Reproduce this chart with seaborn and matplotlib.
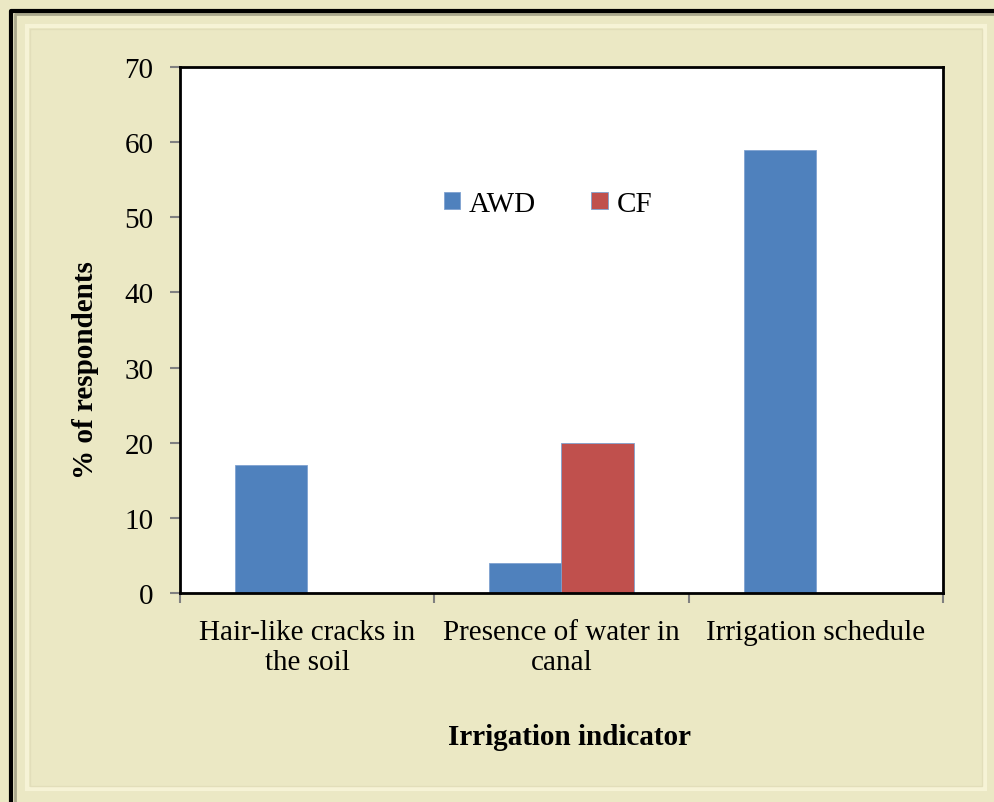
import pandas as pd
import matplotlib.pyplot as plt
import seaborn as sns
from matplotlib.patches import Rectangle
from matplotlib.lines import Line2D

# Chart data
indicators = ['Hair-like cracks in\nthe soil', 'Presence of water in\ncanal', 'Irrigation schedule']
methods = ['AWD', 'CF']
awd_values = [17, 4, 59]
cf_values = [0, 20, 0]
y_ticks = [0, 10, 20, 30, 40, 50, 60, 70]

data = pd.DataFrame({
    'indicator': indicators * 2,
    'method': ['AWD'] * 3 + ['CF'] * 3,
    'value': awd_values + cf_values,
})

sns.set_theme(style='white')
plt.rcParams['font.family'] = ['Liberation Serif', 'DejaVu Serif']
plt.rcParams['text.color'] = 'black'
plt.rcParams['axes.labelcolor'] = 'black'

W, H = 995, 803
beige = '#EBE8C4'
fig = plt.figure(figsize=(W / 100, H / 100), dpi=100, facecolor=beige)

# Decorative frame around the chart area
fig.add_artist(Rectangle((27 / W, 1 - 790 / H), (985 - 27) / W, (790 - 27) / H,
                         transform=fig.transFigure, fill=False,
                         edgecolor='#F6F3D6', linewidth=3))
fig.add_artist(Rectangle((30 / W, 1 - 787 / H), (982 - 30) / W, (787 - 30) / H,
                         transform=fig.transFigure, fill=False,
                         edgecolor='#E2DEBA', linewidth=1))
fig.add_artist(Line2D([15 / W, 15 / W, 1.0], [0.0, 1 - 15 / H, 1 - 15 / H],
                      transform=fig.transFigure, color='#A9A78C', linewidth=2))
fig.add_artist(Line2D([11.5 / W, 11.5 / W, 1.0], [0.0, 1 - 11.5 / H, 1 - 11.5 / H],
                      transform=fig.transFigure, color='black', linewidth=3))

ax = fig.add_axes([180 / W, 1 - 594 / H, (943 - 180) / W, (594 - 68) / H])
ax.set_facecolor('white')

sns.barplot(data=data, x='indicator', y='value', hue='method', order=indicators,
            hue_order=methods, palette=['#4F81BD', '#C0504D'], saturation=1,
            width=0.567, edgecolor='#7FA2D0', linewidth=0.6, ax=ax)

ax.set_xlim(-0.5, 2.5)
ax.set_ylim(0, 70)
ax.set_yticks(y_ticks)
ax.set_yticklabels([str(t) for t in y_ticks], fontsize=21)
ax.set_xticks(range(3))
ax.set_xticklabels(indicators, fontsize=21, linespacing=1.2)
ax.set_xticks([-0.5, 0.5, 1.5, 2.5], minor=True)
ax.tick_params(axis='x', which='major', length=0, pad=19, colors='black')
ax.tick_params(axis='x', which='minor', length=7, width=1.5, color='#808080',
               direction='out', bottom=True)
ax.tick_params(axis='y', length=7, width=1.5, color='#808080', direction='out',
               left=True, pad=12, labelcolor='black')

for spine in ax.spines.values():
    spine.set_color('black')
    spine.set_linewidth(2)
    spine.set_visible(True)

ax.set_xlabel('Irrigation indicator', fontsize=21, fontweight='bold')
ax.set_ylabel('% of respondents', fontsize=21, fontweight='bold')
ax.xaxis.set_label_coords(0.511, -0.247)
ax.yaxis.set_label_coords(-0.106, 0.426)

handles, labels = ax.get_legend_handles_labels()
ax.legend(handles, labels, loc='center', bbox_to_anchor=(548 / W, 1 - 205 / H),
          bbox_transform=fig.transFigure, ncol=2, frameon=False, fontsize=21,
          handlelength=0.55, handleheight=0.55, handletextpad=0.3,
          columnspacing=1.9)

fig.savefig('out.png', dpi=100, facecolor=beige)
